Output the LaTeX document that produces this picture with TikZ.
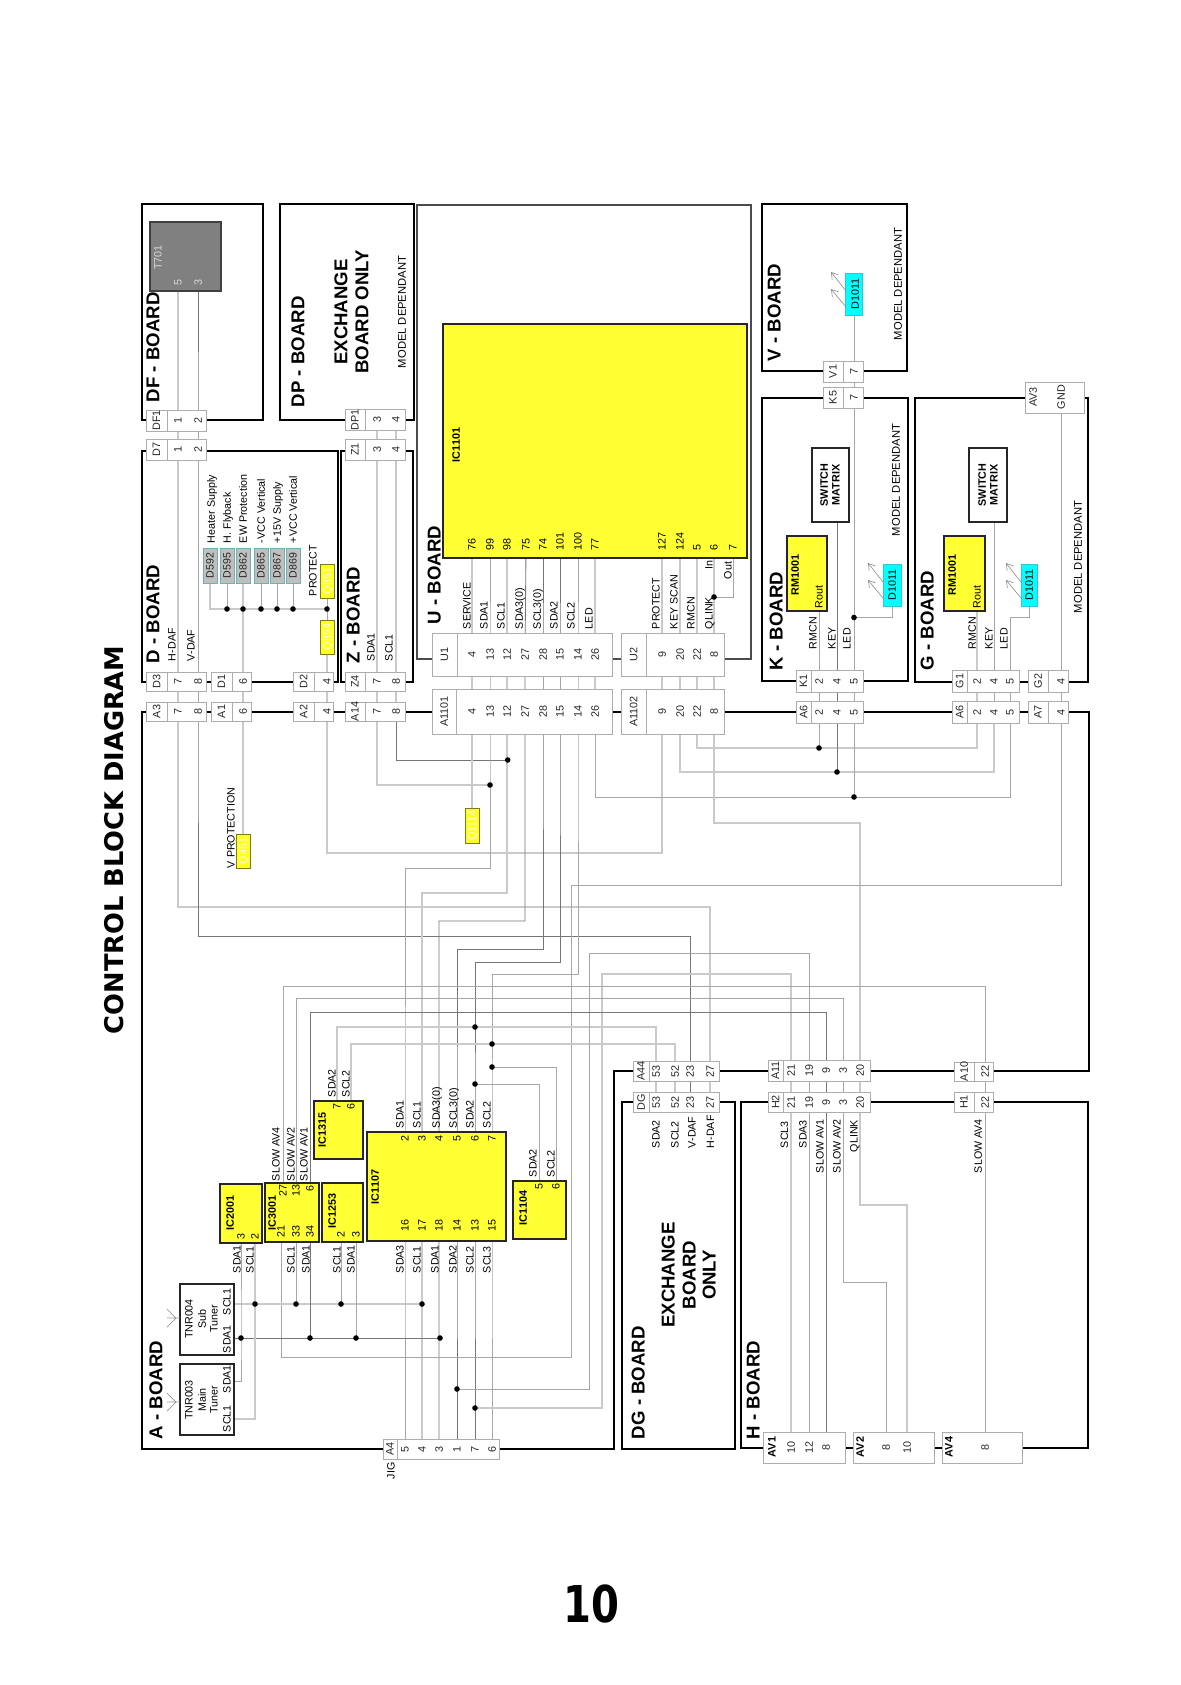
\documentclass[tikz,border=0pt]{standalone}
\usepackage{fontspec}
\setmainfont{Liberation Sans}
\newfontfamily\dvfont{DejaVu Sans}
\newfontfamily\dvnum[FakeStretch=0.79]{DejaVu Sans}
\usetikzlibrary{arrows.meta}
\pgfdeclarelayer{bgl}
\pgfdeclarelayer{wires}
\pgfsetlayers{bgl,wires,main}
\definecolor{icy}{HTML}{FFFF33}
\definecolor{qy}{HTML}{FFFF20}
\definecolor{wlc}{HTML}{CACACA}
\definecolor{wmc}{HTML}{A6A6A6}
\definecolor{wdc}{HTML}{767676}
\definecolor{ledc}{HTML}{00FFFF}
\definecolor{ledb}{HTML}{30C8D8}
\definecolor{dgb}{HTML}{70B0B0}
\definecolor{qb}{HTML}{7A7A20}
\newcounter{tc}
\tikzset{
  rot/.style={rotate=90,inner sep=0pt,outer sep=0pt,text depth=0pt,text=black},
  lab/.style={font=\fontsize{5.35}{6}\selectfont},
  num/.style={font=\fontsize{5.4}{6}\selectfont,text=black!85},
  bld/.style={font=\fontsize{5.4}{6}\selectfont\bfseries},
  med/.style={font=\fontsize{5.6}{6}\selectfont},
  ttl/.style={font=\fontsize{9.3}{10}\selectfont\bfseries},
  boardbox/.style={draw=black,line width=1.2pt},
  uboard/.style={draw=black!70,line width=1.1pt},
  connbox/.style={draw=black!32,line width=.5pt,fill=white},
  connline/.style={draw=black!32,line width=.5pt},
  icbox/.style={draw=black!85,line width=1pt,fill=icy},
  plainbox/.style={draw=black!85,line width=1pt,fill=white},
  qbox/.style={draw=qb,line width=.5pt,fill=qy},
  dgbox/.style={draw=dgb,line width=.5pt,fill=black!25},
  ledbox/.style={draw=ledb,line width=.5pt,fill=ledc},
  xfbox/.style={draw=black!75,line width=1pt,fill=black!50},
  jdot/.style={circle,fill=black,inner sep=0pt,minimum size=2.8pt},
  wl/.style={draw=wlc,line width=.55pt},
  wm/.style={draw=wmc,line width=.42pt},
  wd/.style={draw=wdc,line width=.42pt},
  ledarrow/.style={draw=black!45,line width=.3pt,-{Straight Barb[length=3.2pt,width=4pt]}},
  antenna/.style={draw=black!40,line width=.35pt},
}
\newcommand{\bx}[6][]{%
  \pgfmathsetmacro\bw{(#5-#3)*0.5}\pgfmathsetmacro\bh{(#6-#4)*0.5}%
  \pgfmathsetmacro\bcx{(#3+#5)/2}\pgfmathsetmacro\bcy{(#4+#6)/2}%
  \node[#1,minimum width=\bw pt,minimum height=\bh pt,inner sep=0pt,outer sep=0pt] (#2) at (\bcx,\bcy) {};}
\newcommand{\vt}[4][lab]{\stepcounter{tc}\node[rot,#1,anchor=west] (vt\arabic{tc}) at (#2,#3) {#4};}
\newcommand{\ct}[4][lab]{\stepcounter{tc}\node[rot,#1] (ct\arabic{tc}) at (#2,#3) {#4};}
\newcommand{\pinw}[4]{\coordinate (#1) at (#2,#3);\vt[lab]{#2}{#3}{#4}}
\newcommand{\conn}[8]{%
  \bx[connbox]{#1}{#2}{#3}{#4}{#5}%
  \draw[connline] (#6,#3)--(#6,#5);%
  \pgfmathsetmacro\cny{(#3+#5)/2}\pgfmathsetmacro\cnx{(#2+#6)/2}%
  \node[rot,num] (#1lab) at (\cnx,\cny) {#7};%
  \foreach \n/\px in {#8} {\coordinate (#1p\n) at (\px,\cny);\node[rot,num] (#1t\n) at (\px,\cny) {\n};}}
\newcommand{\jd}[3]{\node[jdot] (#1) at (#2,#3) {};}
\newcommand{\ledarrows}[3]{%
  \coordinate (#1a) at (#2,#3+18);\coordinate (#1b) at (#2-15,#3-1);
  \coordinate (#1c) at (#2,#3+34);\coordinate (#1d) at (#2-15,#3+16);
  \draw[ledarrow] (#1a)--(#1b);\draw[ledarrow] (#1c)--(#1d);}
\begin{document}
\begin{tikzpicture}[x=0.5pt,y=-0.5pt]
\useasboundingbox (0,0) rectangle (1180,1685);
\begin{pgfonlayer}{bgl}\fill[white] (0,0) rectangle (1180,1685);\end{pgfonlayer}

% boards
\draw[boardbox] (142,712)--(1089,712)--(1089,1071)--(614,1071)--(614,1449)--(142,1449)--cycle;
\bx[boardbox]{DFb}{142}{204}{263}{420}
\bx[boardbox]{DPb}{280}{204}{414}{420}
\bx[boardbox]{Db}{142}{451}{338}{682}
\bx[boardbox]{Zb}{341}{451}{413}{682}
\bx[uboard]{Ub}{417}{205}{751}{659}
\bx[boardbox]{Vb}{762}{204}{907}{371}
\bx[boardbox]{Kb}{762}{398}{908}{681}
\bx[boardbox]{Gb}{915}{398}{1088}{682}
\bx[boardbox]{DGb}{622}{1102}{735}{1449}
\bx[boardbox]{Hb}{741}{1102}{1088}{1448}

% titles
\stepcounter{tc}\node[rot,font=\fontsize{12.85}{14}\selectfont\dvfont\bfseries,anchor=west] (title) at (113.5,1034) {CONTROL BLOCK DIAGRAM};
\node[inner sep=0pt,font=\fontsize{25.4}{28}\selectfont\dvnum\bfseries] (pageno) at (591.5,1603.5) {10};
\vt[ttl]{153}{402}{DF - BOARD}
\vt[ttl]{298}{407}{DP - BOARD}
\vt[ttl]{153}{663}{D - BOARD}
\vt[ttl]{353}{663}{Z - BOARD}
\vt[ttl]{434}{624}{U - BOARD}
\vt[ttl]{774}{361}{V - BOARD}
\vt[ttl]{776}{670}{K - BOARD}
\vt[ttl]{927}{670}{G - BOARD}
\vt[ttl]{156}{1439}{A - BOARD}
\vt[ttl]{638}{1439}{DG - BOARD}
\vt[ttl]{753}{1439}{H - BOARD}
\ct[ttl]{341}{312}{EXCHANGE}
\ct[ttl]{362}{312}{BOARD ONLY}
\ct[ttl]{668}{1275}{EXCHANGE}
\ct[ttl]{689}{1275}{BOARD}
\ct[ttl]{709}{1275}{ONLY}
\ct[med]{402}{312}{MODEL DEPENDANT}
\ct[med]{898}{284}{MODEL DEPENDANT}
\ct[med]{896}{480}{MODEL DEPENDANT}
\ct[med]{1078}{557}{MODEL DEPENDANT}

% connectors
\conn{DFa}{146}{410}{206}{431}{167}{DF1}{1/178,2/198}
\conn{Dsev}{146}{439}{206}{460}{167}{D7}{1/178,2/198}
\conn{Dthree}{146}{672}{206}{691}{167}{D3}{7/178,8/198}
\conn{Done}{211}{672}{251}{691}{232}{D1}{6/243}
\conn{Dtwo}{293}{672}{333}{691}{314}{D2}{4/327}
\conn{Zfour}{345}{672}{405}{691}{365}{Z4}{7/377,8/396}
\conn{Zone}{345}{439}{405}{460}{365}{Z1}{3/377,4/396}
\conn{DPone}{345}{409}{405}{430}{365}{DP1}{3/377,4/396}
\conn{Athree}{146}{702}{206}{721}{167}{A3}{7/178,8/198}
\conn{Aone}{211}{702}{251}{721}{232}{A1}{6/243}
\conn{Atwo}{293}{702}{333}{721}{314}{A2}{4/327}
\conn{Afourteen}{345}{702}{405}{721}{365}{A14}{7/377,8/396}
\conn{Axi}{432}{689}{612}{734}{456}{A1101}{4/472,13/490,12/507,27/525,28/543,15/560,14/578,26/595}
\conn{Uone}{432}{633}{612}{676}{457}{U1}{4/472,13/490,12/507,27/525,28/543,15/560,14/578,26/595}
\conn{Utwo}{621}{633}{724}{676}{646}{U2}{9/662,20/680,22/697,8/714}
\conn{Axii}{621}{689}{724}{734}{646}{A1102}{9/662,20/680,22/697,8/714}
\conn{Kfive}{823}{387}{863}{408}{843}{K5}{7/854}
\conn{Vone}{823}{361}{863}{382}{843}{V1}{7/854}
\conn{Kone}{796}{670}{863}{692}{811}{K1}{2/819,4/837,5/854}
\conn{Asixk}{796}{701}{863}{723}{811}{A6}{2/819,4/837,5/854}
\conn{Gone}{952}{670}{1019}{692}{967}{G1}{2/977,4/994,5/1010}
\conn{Asixg}{952}{701}{1019}{723}{967}{A6}{2/977,4/994,5/1010}
\conn{Gtwo}{1028}{670}{1068}{692}{1048}{G2}{4/1061}
\conn{Aseven}{1028}{701}{1068}{723}{1048}{A7}{4/1061}
\conn{Afff}{633}{1061}{719}{1081}{649}{A44}{53/656,52/675,23/690,27/710}
\conn{DGc}{633}{1092}{719}{1112}{649}{DG}{53/656,52/675,23/690,27/710}
\conn{Aeleven}{768}{1060}{870}{1081}{783}{A11}{21/791,19/809,9/826,3/843,20/860}
\conn{Htwo}{768}{1092}{870}{1112}{783}{H2}{21/791,19/809,9/826,3/843,20/860}
\conn{Aten}{954}{1062}{993}{1081}{974}{A10}{22/985}
\conn{Hone}{954}{1092}{993}{1112}{974}{H1}{22/985}
\conn{Afour}{383}{1439}{499}{1459}{397}{A4}{5/405,4/422,3/439,1/457,7/475,6/492}
\vt{391}{1479}{JIG}

% AV connectors
\bx[connbox]{AVthree}{1025}{382}{1084}{413}
\ct[num]{1033}{397}{AV3}
\ct[num]{1061}{397}{GND}
\coordinate (AVgnd) at (1061,397);
\bx[connbox]{AVone}{763}{1432}{845}{1463}
\bx[connbox]{AVtwo}{853}{1432}{934}{1463}
\bx[connbox]{AVfour}{942}{1432}{1022}{1463}
\ct[bld]{772}{1447}{AV1}
\ct[bld]{860}{1447}{AV2}
\ct[bld]{949}{1447}{AV4}
\foreach \nm/\n/\px in {AVonep10/10/791,AVonep12/12/809,AVonep8/8/826,AVtwop8/8/886,AVtwop10/10/907,AVfourp8/8/985} {
  \coordinate (\nm) at (\px,1447);\node[rot,num] (\nm t) at (\px,1447) {\n};}

% DF / T701
\bx[xfbox]{Txf}{150}{222}{221}{291}
\stepcounter{tc}\node[rot,lab,text=black!15,anchor=west] (T701t) at (158,270) {T701};
\node[rot,num,text=black!15] (T5t) at (178,282) {5};
\node[rot,num,text=black!15] (T3t) at (198,282) {3};
\coordinate (T5) at (178,282);
\coordinate (T3) at (198,282);

% D board
\foreach \nm/\xa/\xb/\txt in {Dq/203/217/D592,Dr/220/234/D595,Ds/236/250/D862,Dt/254/268/D865,Du/270/284/D867,Dv/286/300/D869} {
  \bx[dgbox]{\nm}{\xa}{548}{\xb}{583}
  \pgfmathsetmacro\mx{(\xa+\xb)/2}
  \node[rot,num,font=\fontsize{5.3}{6}\selectfont] (\nm t) at (\mx,565.5) {\txt};}
\vt{211}{543}{Heater Supply}
\vt{227}{543}{H. Flyback}
\vt{243}{543}{EW Protection}
\vt{261}{543}{-VCC Vertical}
\vt{277}{543}{+15V Supply}
\vt{293}{543}{+VCC Vertical}
\vt{313}{596}{PROTECT}
\vt{172}{661}{H-DAF}
\vt{191}{661}{V-DAF}
\bx[qbox]{Qeight}{320}{564}{334}{598}
\bx[qbox]{Qnine}{320}{620}{334}{654}
\ct[num,text=white]{327}{581}{Q851}
\ct[num,text=white]{327}{637}{Q854}
\jd{ja}{227}{609}\jd{jb}{243}{609}\jd{jc}{261}{609}\jd{jd}{277}{609}\jd{je}{293}{609}\jd{jf}{327}{609}
% Z
\vt{371}{661}{SDA1}
\vt{389}{661}{SCL1}

% V protection
\bx[qbox]{Qvp}{236}{834}{250}{868}
\ct[num,text=white]{243}{851}{Q451}
\vt{231}{868}{V PROTECTION}
\bx[qbox]{Qu}{465}{808}{479}{843}
\ct[num,text=white]{472}{825.5}{Q1114}

% U board
\bx[icbox]{ICu}{443}{324}{747}{558}
\vt[bld]{456}{462}{IC1101}
\pinw{Ua}{472}{550}{76}\pinw{Ub2}{490}{550}{99}\pinw{Uc}{507}{550}{98}\pinw{Ud}{526}{550}{75}
\pinw{Ue}{543}{550}{74}\pinw{Uf}{560}{550}{101}\pinw{Ug}{578}{550}{100}\pinw{Uh}{595}{550}{77}
\pinw{Ui}{662}{550}{127}\pinw{Uj}{680}{550}{124}\pinw{Uk}{697}{550}{5}\pinw{Ul}{714}{550}{6}\pinw{Um}{733}{550}{7}
\vt{467}{629}{SERVICE}\vt{484}{629}{SDA1}\vt{501}{629}{SCL1}\vt{519}{629}{SDA3(0)}
\vt{537}{629}{SCL3(0)}\vt{554}{629}{SDA2}\vt{571}{629}{SCL2}\vt{589}{629}{LED}
\vt{656}{629}{PROTECT}\vt{674}{629}{KEY SCAN}\vt{691}{629}{RMCN}\vt{709}{629}{QLINK}
\vt{709}{569}{In}\vt{728}{579}{Out}
\jd{jq}{714}{597}

% V board
\bx[ledbox]{LEDv}{845.5}{273}{862.5}{315}
\ct[num,text=black]{855}{294}{D1011}
\ledarrows{lv}{846}{273}

% K board
\bx[icbox]{RMk}{787}{536}{827}{611}
\vt[bld]{795}{595}{RM1001}
\vt{819}{608}{Rout}
\coordinate (RMkr) at (819,605);
\bx[plainbox]{SWk}{812}{448}{849}{522}
\ct[bld]{824}{485}{SWITCH}
\ct[bld]{836}{485}{MATRIX}
\coordinate (SWkr) at (837,515);
\bx[ledbox]{LEDk}{883}{564}{901}{606}
\ct[num,text=black]{892}{585}{D1011}
\ledarrows{lk}{883}{564}
\vt{813}{649}{RMCN}\vt{832}{649}{KEY}\vt{847}{649}{LED}
\jd{jk}{854}{617.5}

% G board
\bx[icbox]{RMg}{944}{536}{985}{611}
\vt[bld]{952}{595}{RM1001}
\vt{977}{608}{Rout}
\coordinate (RMgr) at (977,605);
\bx[plainbox]{SWg}{969}{448}{1007}{522}
\ct[bld]{982}{485}{SWITCH}
\ct[bld]{994}{485}{MATRIX}
\coordinate (SWgr) at (994,515);
\bx[ledbox]{LEDg}{1021}{564}{1037}{606}
\ct[num,text=black]{1029}{585}{D1011}
\ledarrows{lg}{1021}{564}
\vt{972}{649}{RMCN}\vt{989}{649}{KEY}\vt{1004}{649}{LED}

% A-board junctions on the right
\jd{jr}{819}{748}\jd{js}{837}{772}\jd{jt}{854}{797}
\jd{ju}{507.7}{760}\jd{jv}{490}{785}

% DG / H labels
\vt{656}{1148}{SDA2}\vt{675}{1148}{SCL2}\vt{692}{1148}{V-DAF}\vt{710.5}{1148}{H-DAF}
\vt{784.5}{1148}{SCL3}\vt{803}{1148}{SDA3}\vt{820}{1173}{SLOW AV1}\vt{837}{1173}{SLOW AV2}
\vt{854}{1152}{QLINK}\vt{978}{1173}{SLOW AV4}

% IC1107
\bx[icbox]{ICa}{367}{1132}{506}{1241}
\vt[bld]{375}{1204}{IC1107}
\pinw{Ita}{405}{1141}{2}\pinw{Itb}{422}{1141}{3}\pinw{Itc}{439}{1141}{4}\pinw{Itd}{457}{1141}{5}\pinw{Ite}{475}{1141}{6}\pinw{Itf}{492}{1141}{7}
\pinw{Iba}{405}{1231}{16}\pinw{Ibb}{422}{1231}{17}\pinw{Ibc}{439}{1231}{18}\pinw{Ibd}{457}{1231}{14}\pinw{Ibe}{475}{1231}{13}\pinw{Ibf}{492}{1231}{15}
\vt{400}{1128}{SDA1}\vt{417}{1128}{SCL1}\vt{436}{1128}{SDA3(0)}\vt{453}{1128}{SCL3(0)}\vt{470}{1128}{SDA2}\vt{487}{1128}{SCL2}
\vt{400}{1273}{SDA3}\vt{417}{1273}{SCL1}\vt{435}{1273}{SDA1}\vt{453}{1273}{SDA2}\vt{470}{1273}{SCL2}\vt{487}{1273}{SCL3}

% IC1315
\bx[icbox]{ICb}{314}{1101}{363}{1159}
\vt[bld]{322}{1147}{IC1315}
\pinw{Ipa}{337}{1109.5}{7}\pinw{Ipb}{351}{1109.5}{6}
\vt{332}{1097}{SDA2}\vt{346}{1097}{SCL2}

% IC1253
\bx[icbox]{ICc}{322}{1183}{363}{1242}
\vt[bld]{332}{1228}{IC1253}
\pinw{Iqa}{341}{1237.5}{2}\pinw{Iqb}{356}{1237.5}{3}
\vt{337}{1273}{SCL1}\vt{351}{1273}{SDA1}

% IC3001
\bx[icbox]{ICd}{265}{1183}{319}{1242}
\vt[bld]{272}{1230}{IC3001}
\pinw{Ira}{283}{1196}{27}\pinw{Irb}{296}{1196}{13}\pinw{Irc}{310}{1191}{6}
\pinw{Ird}{281}{1237}{21}\pinw{Ire}{296}{1237}{33}\pinw{Irf}{310}{1237}{34}
\vt{276}{1181}{SLOW AV4}\vt{291}{1181}{SLOW AV2}\vt{304}{1181}{SLOW AV1}
\vt{291}{1273}{SCL1}\vt{306}{1273}{SDA1}

% IC2001
\bx[icbox]{ICe}{220}{1184}{262}{1243}
\vt[bld]{230}{1230}{IC2001}
\pinw{Isa}{241}{1239}{3}\pinw{Isb}{255}{1239}{2}
\vt{237}{1273}{SDA1}\vt{250}{1273}{SCL1}

% IC1104
\bx[icbox]{ICf}{513}{1181}{566}{1239}
\vt[bld]{523}{1225}{IC1104}
\pinw{Ita2}{539}{1189}{5}\pinw{Itb2}{556}{1189}{6}
\vt{533}{1177}{SDA2}\vt{551}{1177}{SCL2}

% tuners
\bx[plainbox]{TNa}{180}{1284}{234}{1355}
\ct{189}{1319}{TNR004}\ct{202}{1319}{Sub}\ct{214}{1319}{Tuner}
\vt{227}{1353}{SDA1}\vt{227}{1315}{SCL1}
\bx[plainbox]{TNb}{180}{1364}{234}{1435}
\ct{189}{1400}{TNR003}\ct{202}{1400}{Main}\ct{214}{1400}{Tuner}
\vt{227}{1432}{SCL1}\vt{227}{1393}{SDA1}
\coordinate (t4scl) at (234,1304);\coordinate (t4sda) at (234,1338);
\coordinate (t3sda) at (234,1381);\coordinate (t3scl) at (234,1419);
\draw[antenna] (167,1318)--(180,1318) (167,1309)--(176,1318)--(167,1327);
\draw[antenna] (167,1402)--(180,1402) (167,1393)--(176,1402)--(167,1411);

% junctions on the A board
\jd{ka}{255}{1304}\jd{kb}{296}{1304}\jd{kc}{341}{1304}\jd{kd}{422}{1304}
\jd{ke}{241}{1338}\jd{kf}{310}{1338}\jd{kg}{356}{1338}\jd{kh}{440}{1338}
\jd{ki}{475}{1027}\jd{kj}{492}{1044}\jd{kk}{492}{1067}\jd{kl}{475}{1084}
\jd{km}{457}{1389}\jd{kn}{475}{1408}

% wires
\begin{pgfonlayer}{wires}
\draw[wl] (T5)--(DFap1)--(Dsevp1)--(Dthreep7)--(Athreep7) |- (710,907)--(Afffp27)--(DGcp27);
\draw[wd] (T3)--(DFap2)--(Dsevp2)--(Dthreep8)--(Athreep8) |- (690,936)--(Afffp23)--(DGcp23);
\draw[wl] (Zonep3)--(DPonep3);\draw[wl] (Zonep4)--(DPonep4);
\draw[wl] (Zonep3)--(Zfourp7)--(Afourteenp7) |- (jv.center);
\draw[wl] (Zonep4)--(Zfourp8)--(Afourteenp8);
\draw[wd] (Afourteenp8) |- (ju.center);
% D board diodes
\draw[wl] (Dq.south) |- (jf.center);
\draw[wm] (Dr.south)--(ja.center);
\draw[wl] (Ds.south)--(jb.center)--(Donep6)--(Aonep6)--(Qvp.north);
\draw[wm] (Dt.south)--(jc.center);
\draw[wm] (Du.south)--(jd.center);
\draw[wm] (Dv.south)--(je.center);
\draw[wm] (Qeight.south)--(Qnine.north);
\draw[wl] (Qnine.south)--(Dtwop4)--(Atwop4) |- (662,853)--(Axiip9)--(Utwop9)--(Ui);
% A1101
\draw[wl] (Ua)--(Uonep4)--(Axip4)--(Qu.north);
\draw[wm] (Ub2)--(Uonep13)--(Axip13) |- (405,868)--(Ita)--(Iba)--(Afourp5);
\draw[wl] (Uc)--(Uonep12)--(Axip12) |- (422,893)--(Itb)--(Ibb)--(Afourp4);
\draw[wd] (Ud)--(Uonep27)--(Axip27) |- (439,921)--(Itc)--(Ibc)--(Afourp3);
\draw[wd] (Ue)--(Uonep28)--(Axip28) |- (457,949)--(Itd)--(Ibd)--(Afourp1);
\draw[wd] (Uf)--(Uonep15)--(Axip15) |- (475,962)--(Ite)--(Ibe)--(Afourp7);
\draw[wm] (Ug)--(Uonep14)--(Axip14) |- (492,974)--(Itf)--(Ibf)--(Afourp6);
\draw[wl] (Uh)--(Uonep26)--(Axip26);
\draw[wm] (Axip26) |- (1010,797)--(Asixgp5)--(Gonep5);
\draw[wl] (Uj)--(Utwop20)--(Axiip20) |- (994,772)--(Asixgp4);
\draw[wm] (Asixgp4)--(Gonep4)--(SWgr);
\draw[wl] (Uk)--(Utwop22)--(Axiip22) |- (977,748)--(Asixgp2)--(Gonep2)--(RMgr);
\draw[wl] (Ul)--(Utwop8)--(Axiip8) |- (860,823)--(Aelevenp20)--(Htwop20) |- (907,1205)--(AVtwop10);
\draw[wm] (Um) |- (jq.center);
% K, V, G
\draw[wm] (LEDv.south)--(Vonep7)--(Kfivep7)--(Konep5)--(Asixkp5)--(jt.center);
\draw[wm] (LEDk.south) |- (jk.center);
\draw[wm] (RMkr)--(Konep2)--(Asixkp2)--(jr.center);
\draw[wd] (SWkr)--(Konep4)--(Asixkp4)--(js.center);
\draw[wm] (LEDg.south) |- (1010,617.5)--(Gonep5);
\draw[wm] (AVgnd)--(Gtwop4)--(Asevenp4) |- (571,885) |- (281,1357)--(Ird);
% A44 and A11 groups
\draw[wl] (DGcp53)--(Afffp53) |- (337,1027)--(Ipa);
\draw[wl] (DGcp52)--(Afffp52) |- (351,1044)--(Ipb);
\draw[wl] (AVonep10)--(Htwop21)--(Aelevenp21) |- (602,974) |- (kn.center);
\draw[wm] (AVonep12)--(Htwop19)--(Aelevenp19) |- (589,953) |- (km.center);
\draw[wd] (AVonep8)--(Htwop9)--(Aelevenp9) |- (310,1012)--(Irc);
\draw[wm] (AVtwop8) |- (843,1282)--(Htwop3)--(Aelevenp3) |- (296,998)--(Irb);
\draw[wm] (AVfourp8)--(Honep22)--(Atenp22) |- (283,986)--(Ira);
% branches of the A board
\draw[wm] (kl.center) -| (Ita2);
\draw[wm] (kk.center) -| (Itb2);
% tuners and I2C
\draw[wl] (t4scl)--(kd.center);
\draw[wd] (t4sda)--(kh.center);
\draw[wm] (t3sda) -| (ke.center)--(Isa);
\draw[wl] (t3scl) -| (ka.center)--(Isb);
\draw[wm] (Ire)--(kb.center);
\draw[wd] (Irf)--(kf.center);
\draw[wm] (Iqa)--(kc.center);
\draw[wm] (Iqb)--(kg.center);
\end{pgfonlayer}
\end{tikzpicture}
\end{document}
